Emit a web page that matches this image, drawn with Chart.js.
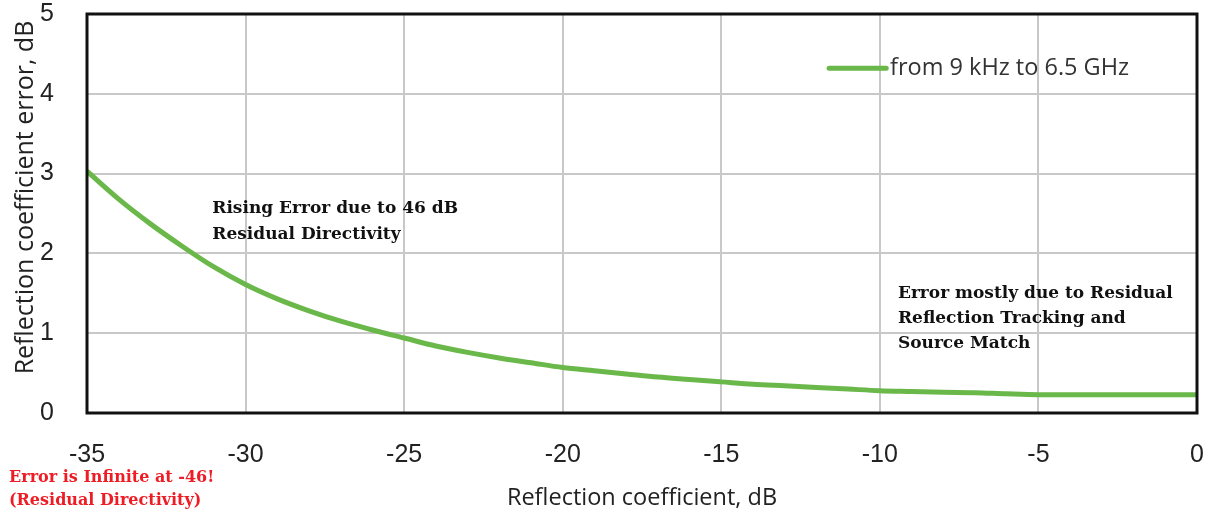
<!DOCTYPE html>
<html>
<head>
<meta charset="utf-8">
<script src="https://cdn.jsdelivr.net/npm/chart.js@4/dist/chart.umd.min.js"></script>
<style>
  html, body { margin: 0; padding: 0; background: #fff; }
  #chart { display: block; }
</style>
</head>
<body>
<canvas id="chart" width="1213" height="514"></canvas>
<script>
// reflection coefficient (dB) and the error (dB)
const reflectionDb = [-35, -34, -33, -32, -31, -30, -29, -28, -27, -26, -25, -24, -23, -22, -21, -20,
  -19, -18, -17, -16, -15, -14, -13, -12, -11, -10, -9, -8, -7, -6, -5, -4, -3, -2, -1, 0];
const errorDb = [3.03, 2.68, 2.37, 2.09, 1.83, 1.61, 1.43, 1.28, 1.15, 1.04, 0.94, 0.84, 0.76, 0.69, 0.63, 0.57,
  0.53, 0.49, 0.45, 0.42, 0.39, 0.36, 0.34, 0.32, 0.30, 0.28, 0.27, 0.26, 0.255, 0.24, 0.23, 0.23, 0.23, 0.23, 0.23, 0.23];
const seriesLabel = 'from 9 kHz to 6.5 GHz';
const xTicks = [-35, -30, -25, -20, -15, -10, -5, 0];
const yTicks = [0, 1, 2, 3, 4, 5];
const yTitle = 'Reflection coefficient error, dB';

const risingNote = ['Rising Error due to 46 dB', 'Residual Directivity'];
const flatNote = ['Error mostly due to Residual', 'Reflection Tracking and', 'Source Match'];
const infiniteNote = ['Error is Infinite at -46!', '(Residual Directivity)'];

const points = reflectionDb.map((x, i) => ({ x: x, y: errorDb[i] }));

// keep the plot box where the reference has it
function noPad(s) {
  s.paddingTop = 0;
  s.paddingBottom = 0;
  s.paddingLeft = 0;
  s.paddingRight = 0;
}

// frame, legend, y title and the text notes
const extras = {
  id: 'extras',
  afterDraw(chart) {
    const { ctx, chartArea: a, scales: { x, y } } = chart;
    const ds = chart.data.datasets[0];
    ctx.save();

    ctx.strokeStyle = '#111';
    ctx.lineWidth = 3;
    ctx.strokeRect(a.left, a.top, a.right - a.left, a.bottom - a.top);

    // y title, sits a bit above the middle of the axis
    ctx.save();
    ctx.translate(26, y.getPixelForValue(2.7));
    ctx.rotate(-Math.PI / 2);
    ctx.fillStyle = '#222';
    ctx.font = '25px "Open Sans"';
    ctx.textAlign = 'center';
    ctx.textBaseline = 'middle';
    ctx.fillText(yTitle, 0, 0);
    ctx.restore();

    // legend
    const ly = y.getPixelForValue(4.32);
    ctx.strokeStyle = ds.borderColor;
    ctx.lineWidth = 5;
    ctx.lineCap = 'round';
    ctx.beginPath();
    ctx.moveTo(x.getPixelForValue(-11.6), ly);
    ctx.lineTo(x.getPixelForValue(-9.8), ly);
    ctx.stroke();
    ctx.fillStyle = '#333';
    ctx.font = '23.5px "Open Sans"';
    ctx.textBaseline = 'middle';
    ctx.textAlign = 'left';
    ctx.fillText(ds.label, x.getPixelForValue(-9.68), ly);

    ctx.font = 'bold 17px "DejaVu Serif"';
    ctx.fillStyle = '#111';
    risingNote.forEach((t, i) => ctx.fillText(t, x.getPixelForValue(-31.05), y.getPixelForValue(2.56) + i * 26));
    flatNote.forEach((t, i) => ctx.fillText(t, x.getPixelForValue(-9.43), y.getPixelForValue(1.5) + i * 25));

    ctx.font = 'bold 16px "DejaVu Serif"';
    ctx.fillStyle = '#ee1c25';
    infiniteNote.forEach((t, i) => ctx.fillText(t, 9, a.bottom + 65 + i * 23));

    ctx.restore();
  }
};

new Chart(document.getElementById('chart'), {
  type: 'line',
  data: {
    datasets: [{
      label: seriesLabel,
      data: points,
      borderColor: '#6ab84a',
      borderWidth: 5,
      pointRadius: 0,
      tension: 0.4,
      cubicInterpolationMode: 'monotone',
      fill: false
    }]
  },
  options: {
    responsive: false,
    animation: false,
    layout: { padding: { top: 14, right: 16, left: 0, bottom: 0 } },
    plugins: {
      legend: { display: false },
      tooltip: { enabled: false }
    },
    scales: {
      x: {
        type: 'linear',
        min: -35,
        max: 0,
        afterBuildTicks: s => { s.ticks = xTicks.map(v => ({ value: v })); },
        afterFit: s => { s.height = 101; noPad(s); },
        grid: { color: '#c8c8c8', lineWidth: 2, drawTicks: false },
        border: { display: false },
        ticks: { color: '#222', padding: 27, maxRotation: 0, font: { family: 'Liberation Sans', size: 25 } },
        title: {
          display: true,
          text: 'Reflection coefficient, dB',
          color: '#222',
          font: { family: 'Open Sans', size: 23.5 },
          padding: { top: 0, bottom: 2 }
        }
      },
      y: {
        min: 0,
        max: 5,
        afterBuildTicks: s => { s.ticks = yTicks.map(v => ({ value: v })); },
        afterFit: s => { s.width = 87; noPad(s); },
        grid: { color: '#c8c8c8', lineWidth: 2, drawTicks: false },
        border: { display: false },
        ticks: { color: '#222', padding: 33, font: { family: 'Liberation Sans', size: 25 } }
      }
    }
  },
  plugins: [extras]
});
</script>
</body>
</html>
